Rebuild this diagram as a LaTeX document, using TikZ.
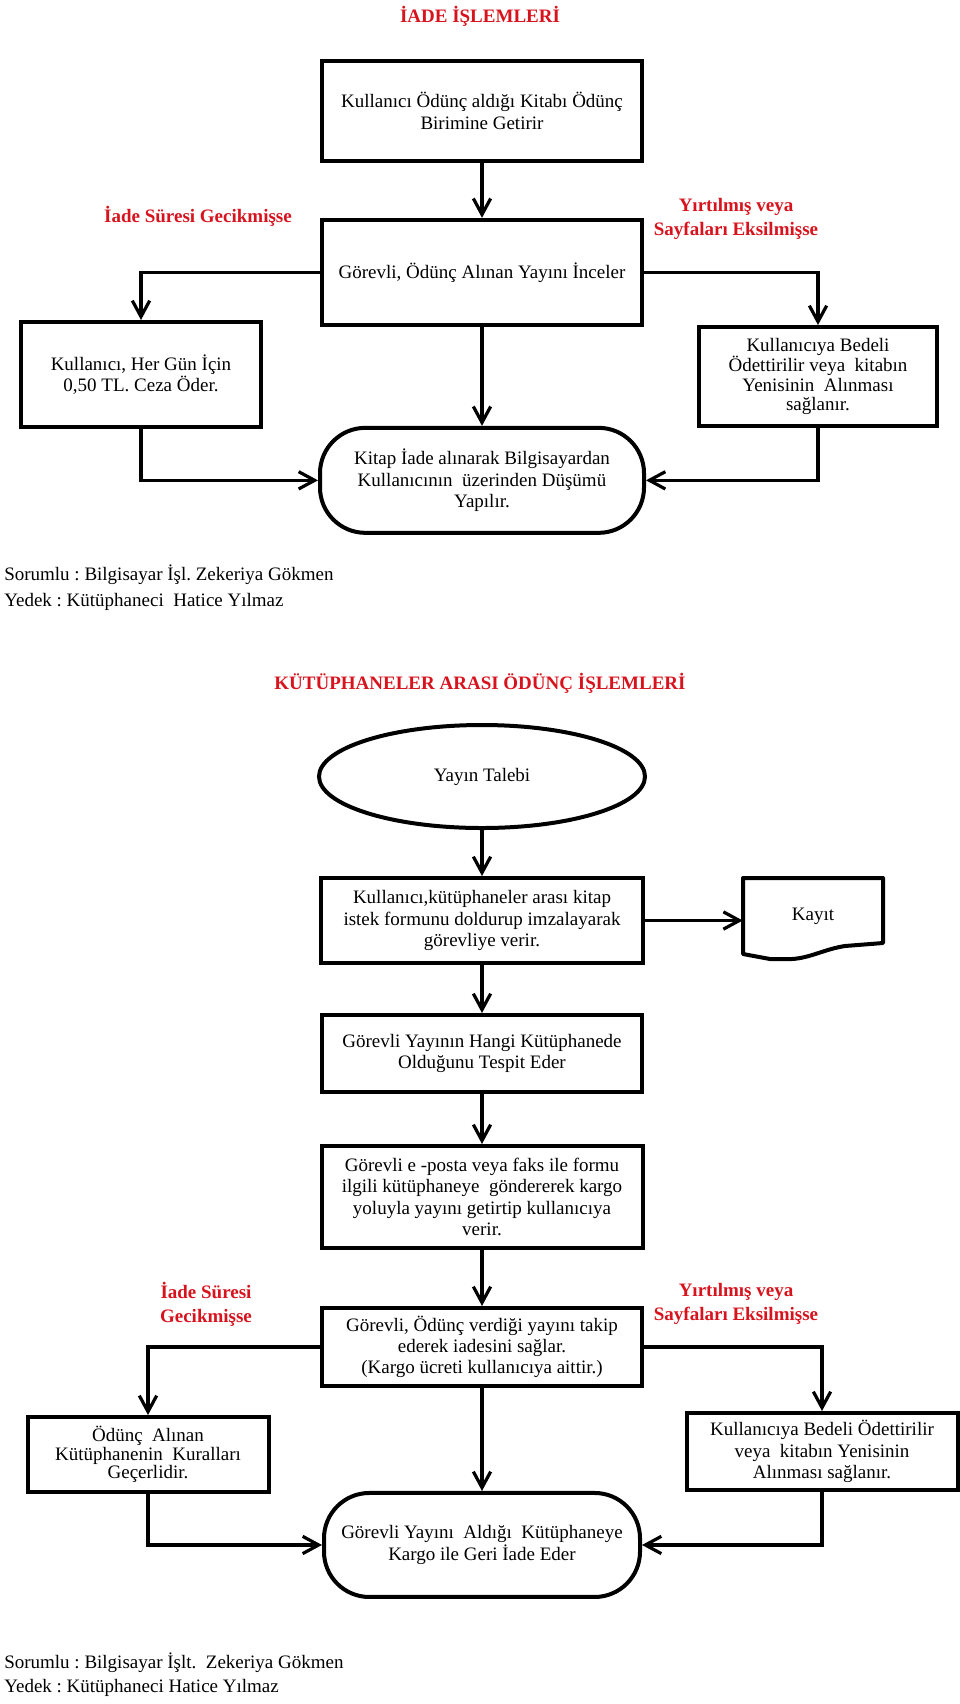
\documentclass[tikz,border=0pt]{standalone}
\usepackage{fontspec}
\setmainfont{Liberation Serif}
\usetikzlibrary{arrows.meta,positioning,shapes.geometric}
\frenchspacing

\definecolor{baslikkirmizi}{RGB}{215,20,30}

\begin{document}
\begin{tikzpicture}[x=0.75pt,y=-0.75pt,on grid,
    every node/.style={font=\fontsize{14.25}{16}\selectfont},
    kutu/.style={draw,line width=3pt,align=center,inner sep=2pt},
    bitis/.style={kutu,rounded corners=34pt},
    baslik/.style={text=baslikkirmizi,font=\fontsize{14.25}{18}\selectfont\bfseries,align=center},
    dipnot/.style={anchor=west,inner sep=0pt},
    ok/.style={line width=2.4pt,-{Straight Barb[length=12pt,width=13pt]}}]
  \useasboundingbox (0,0) rectangle (960,1704);

  % iade islemleri
  \node[baslik] (baslik1) at (480,16) {İADE İŞLEMLERİ};
  \node[kutu,minimum width=240pt,minimum height=75pt] (getir) at (482,111)
    {Kullanıcı Ödünç aldığı Kitabı Ödünç\\Birimine Getirir};
  \node[kutu,minimum width=240pt,minimum height=78.75pt] (incele) [below=121pt of getir]
    {Görevli, Ödünç Alınan Yayını İnceler};
  \node[kutu,minimum width=180pt,minimum height=78.75pt] (ceza) at (141,374.5)
    {Kullanıcı, Her Gün İçin\\0,50 TL. Ceza Öder.};
  \node[kutu,minimum width=178.5pt,minimum height=74.25pt,font=\fontsize{14.25}{14.6}\selectfont] (bedel) at (818,376.5)
    {Kullanıcıya Bedeli\\Ödettirilir veya~ kitabın\\Yenisinin~ Alınması\\sağlanır.};
  \node[bitis,minimum width=243pt,minimum height=78.75pt] (dusum) [below=156pt of incele]
    {Kitap İade alınarak Bilgisayardan\\Kullanıcının~ üzerinden Düşümü\\Yapılır.};

  \node[baslik] (gecikme1) at (198,216) {İade Süresi Gecikmişse};
  \node[baslik] (yirtik1) at (736,219) {Yırtılmış veya\\Sayfaları Eksilmişse};

  \node[dipnot] (sorumlu1) at (4,575) {Sorumlu : Bilgisayar İşl. Zekeriya Gökmen};
  \node[dipnot] (yedek1) at (4,602) {Yedek : Kütüphaneci~ Hatice Yılmaz};

  \draw[ok] (getir) -- (incele);
  \draw[ok] (incele.west) -| (ceza.north);
  \draw[ok] (incele.east) -| (bedel.north);
  \draw[ok] (incele) -- (dusum);
  \draw[ok] (ceza.south) |- (dusum.west);
  \draw[ok] (bedel.south) |- (dusum.east);

  % kutuphaneler arasi odunc
  \node[baslik] (baslik2) at (480,683) {KÜTÜPHANELER ARASI ÖDÜNÇ İŞLEMLERİ};
  \node[draw,ellipse,line width=3pt,minimum width=244.5pt,minimum height=77.25pt] (talep) at (482,776.5)
    {Yayın Talebi};
  \node[kutu,minimum width=241.5pt,minimum height=63.75pt] (form) [below=108pt of talep]
    {Kullanıcı,kütüphaneler arası kitap\\istek formunu doldurup imzalayarak\\görevliye verir.};
  \node[minimum width=105pt,minimum height=57.75pt] (kayit) at (813,916.5) {Kayıt};
  \draw[line width=3pt,line join=round] (743,878) -- (883,878) -- (883,943) -- (845,946)
    .. controls (825,949) and (810,958) .. (792,959) -- (770,959) -- (743,954) -- cycle;
  \node[kutu,minimum width=240pt,minimum height=57.75pt] (tespit) [below=99.75pt of form]
    {Görevli Yayının Hangi Kütüphanede\\Olduğunu Tespit Eder};
  \node[kutu,minimum width=240.75pt,minimum height=76.5pt] (gonder) [below=107.6pt of tespit]
    {Görevli e -posta veya faks ile formu\\ilgili kütüphaneye~ göndererek kargo\\yoluyla yayını getirtip kullanıcıya\\verir.};
  \node[kutu,minimum width=240pt,minimum height=58.5pt] (takip) [below=112.5pt of gonder]
    {Görevli, Ödünç verdiği yayını takip\\ederek iadesini sağlar.\\(Kargo ücreti kullanıcıya aittir.)};
  \node[kutu,minimum width=180.75pt,minimum height=56.25pt,font=\fontsize{14.25}{12}\selectfont] (kural) at (148,1454.5)
    {Ödünç~ Alınan\\Kütüphanenin~ Kuralları\\Geçerlidir.};
  \node[kutu,minimum width=203.25pt,minimum height=57.75pt] (bedel2) at (822,1451.5)
    {Kullanıcıya Bedeli Ödettirilir\\veya~ kitabın Yenisinin\\Alınması sağlanır.};
  \node[bitis,minimum width=237pt,minimum height=78pt] (iade) [below=148.5pt of takip]
    {Görevli Yayını~ Aldığı~ Kütüphaneye\\Kargo ile Geri İade Eder};

  \node[baslik] (gecikme2) at (206,1304) {İade Süresi\\Gecikmişse};
  \node[baslik] (yirtik2) at (736,1304) {Yırtılmış veya\\Sayfaları Eksilmişse};

  \node[dipnot] (sorumlu2) at (4,1663) {Sorumlu : Bilgisayar İşlt.~ Zekeriya Gökmen};
  \node[dipnot] (yedek2) at (4,1688) {Yedek : Kütüphaneci Hatice Yılmaz};

  \draw[ok] (talep) -- (form);
  \draw[ok] (form.east) -- (form.east -| kayit.west);
  \draw[ok] (form) -- (tespit);
  \draw[ok] (tespit) -- (gonder);
  \draw[ok] (gonder) -- (takip);
  \draw[ok] (takip) -- (iade);
  \draw[ok] (takip.west) -| (kural.north);
  \draw[ok] (takip.east) -| (bedel2.north);
  \draw[ok] (kural.south) |- (iade.west);
  \draw[ok] (bedel2.south) |- (iade.east);
\end{tikzpicture}
\end{document}
